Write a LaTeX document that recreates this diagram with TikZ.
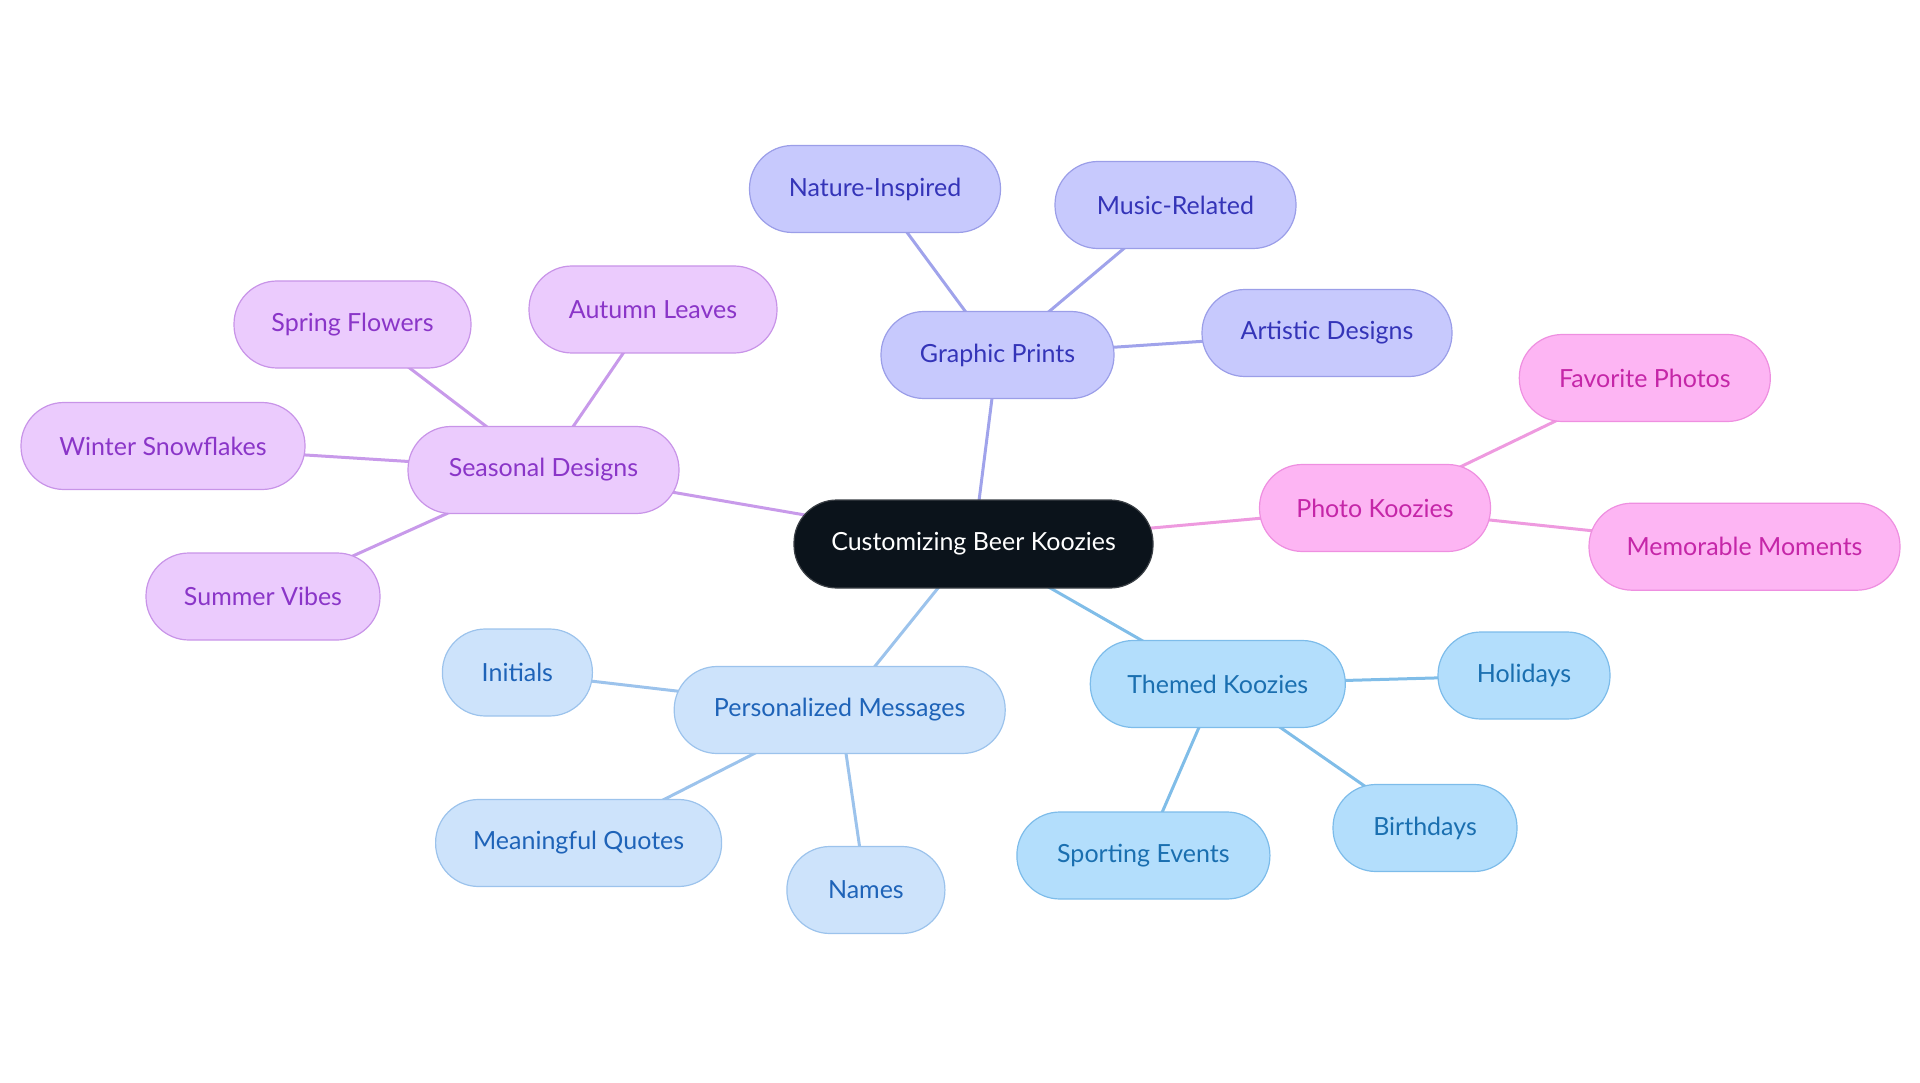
\documentclass[tikz,border=0pt]{standalone}
\usepackage{fontspec}
\setmainfont{Lato}
\usetikzlibrary{backgrounds}
\definecolor{rootfill}{HTML}{0B131B}
\definecolor{rootdraw}{HTML}{3A3F45}
\definecolor{gpfill}{HTML}{C7C9FD}\definecolor{gpdraw}{HTML}{9B9EE8}\definecolor{gptext}{HTML}{3434B8}\definecolor{gpline}{HTML}{A0A3EB}
\definecolor{sdfill}{HTML}{EBCBFD}\definecolor{sddraw}{HTML}{C894E8}\definecolor{sdtext}{HTML}{8A35C8}\definecolor{sdline}{HTML}{C89AEA}
\definecolor{pkfill}{HTML}{FDB5F3}\definecolor{pkdraw}{HTML}{EE8FE0}\definecolor{pktext}{HTML}{C526A8}\definecolor{pkline}{HTML}{EE9ADF}
\definecolor{pmfill}{HTML}{CDE3FB}\definecolor{pmdraw}{HTML}{9CC3EC}\definecolor{pmtext}{HTML}{1E63B8}\definecolor{pmline}{HTML}{9CC3EC}
\definecolor{tkfill}{HTML}{B3DEFC}\definecolor{tkdraw}{HTML}{7DBCEA}\definecolor{tktext}{HTML}{1A6FB0}\definecolor{tkline}{HTML}{80BDE8}
\tikzset{
  pill/.style={rounded corners=43pt, minimum height=87pt, inner sep=0pt, line width=1.2pt, font=\fontsize{25}{29}\selectfont, anchor=center},
  rootbox/.style={pill, fill=rootfill, draw=rootdraw, text=white, minimum height=88pt},
  gpbox/.style={pill, fill=gpfill, draw=gpdraw, text=gptext},
  sdbox/.style={pill, fill=sdfill, draw=sddraw, text=sdtext},
  pkbox/.style={pill, fill=pkfill, draw=pkdraw, text=pktext},
  pmbox/.style={pill, fill=pmfill, draw=pmdraw, text=pmtext},
  tkbox/.style={pill, fill=tkfill, draw=tkdraw, text=tktext},
  conn/.style={line width=3pt}
}
\begin{document}
\begin{tikzpicture}[x=1pt,y=-1pt]
\useasboundingbox (0,0) rectangle (1920,1083);
\node[rootbox, minimum width=359pt] (root) at (973.5,544) {Customizing Beer Koozies};
% Graphic Prints
\node[gpbox, minimum width=233pt] (gp) at (997.5,355) {Graphic Prints};
\node[gpbox, minimum width=251pt] (ni) at (875,189) {Nature-Inspired};
\node[gpbox, minimum width=241pt] (mr) at (1175.5,205) {Music-Related};
\node[gpbox, minimum width=250pt] (ad) at (1327,333) {Artistic Designs};
% Seasonal
\node[sdbox, minimum width=271pt] (sd) at (543.5,470) {Seasonal Designs};
\node[sdbox, minimum width=248pt] (al) at (653,309.5) {Autumn Leaves};
\node[sdbox, minimum width=237pt] (sf) at (352.5,324.5) {Spring Flowers};
\node[sdbox, minimum width=284pt] (ws) at (163,446) {Winter Snowflakes};
\node[sdbox, minimum width=234pt] (sv) at (263,596.5) {Summer Vibes};
% Photo
\node[pkbox, minimum width=231pt] (pk) at (1375,508) {Photo Koozies};
\node[pkbox, minimum width=251pt] (fp) at (1644.8,378) {Favorite Photos};
\node[pkbox, minimum width=311pt] (mm) at (1744.5,546.7) {Memorable Moments};
% Personalized
\node[pmbox, minimum width=331pt] (pm) at (839.7,710) {Personalized Messages};
\node[pmbox, minimum width=150pt] (in) at (517.4,672.5) {Initials};
\node[pmbox, minimum width=286pt] (mq) at (578.6,843) {Meaningful Quotes};
\node[pmbox, minimum width=158pt] (na) at (865.9,890) {Names};
% Themed
\node[tkbox, minimum width=255pt] (tk) at (1217.8,684) {Themed Koozies};
\node[tkbox, minimum width=172pt] (ho) at (1524,675.5) {Holidays};
\node[tkbox, minimum width=184pt] (bi) at (1425,828) {Birthdays};
\node[tkbox, minimum width=253pt] (se) at (1143.4,855.5) {Sporting Events};
\begin{pgfonlayer}{background}
\draw[conn, gpline] (root.center) -- (gp.center);
\draw[conn, gpline] (gp.center) -- (ni.center);
\draw[conn, gpline] (gp.center) -- (mr.center);
\draw[conn, gpline] (gp.center) -- (ad.center);
\draw[conn, sdline] (root.center) -- (sd.center);
\draw[conn, sdline] (sd.center) -- (al.center);
\draw[conn, sdline] (sd.center) -- (sf.center);
\draw[conn, sdline] (sd.center) -- (ws.center);
\draw[conn, sdline] (sd.center) -- (sv.center);
\draw[conn, pkline] (root.center) -- (pk.center);
\draw[conn, pkline] (pk.center) -- (fp.center);
\draw[conn, pkline] (pk.center) -- (mm.center);
\draw[conn, pmline] (root.center) -- (pm.center);
\draw[conn, pmline] (pm.center) -- (in.center);
\draw[conn, pmline] (pm.center) -- (mq.center);
\draw[conn, pmline] (pm.center) -- (na.center);
\draw[conn, tkline] (root.center) -- (tk.center);
\draw[conn, tkline] (tk.center) -- (ho.center);
\draw[conn, tkline] (tk.center) -- (bi.center);
\draw[conn, tkline] (tk.center) -- (se.center);
\end{pgfonlayer}
\end{tikzpicture}
\end{document}
